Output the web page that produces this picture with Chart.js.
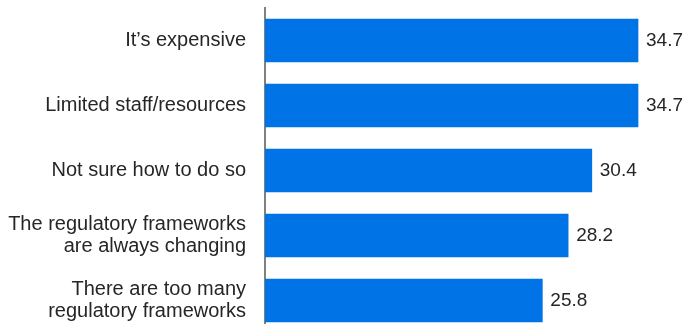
<!DOCTYPE html>
<html>
<head>
<meta charset="utf-8">
<script src="https://cdn.jsdelivr.net/npm/chart.js@4/dist/chart.umd.min.js"></script>
<style>
  html, body { margin: 0; padding: 0; background: #fff; overflow: hidden; }
  #wrap { position: relative; width: 698px; height: 333px; }
</style>
</head>
<body>
<div id="wrap"><canvas id="barChart"></canvas></div>
<script>
const reasons = [
    "It\u2019s expensive",
    "Limited staff/resources",
    "Not sure how to do so",
    ["The regulatory frameworks", "are always changing"],
    ["There are too many", "regulatory frameworks"]
];
const shares = [34.7, 34.7, 30.4, 28.2, 25.8];

const fontFamily = "'Liberation Sans', Arial, sans-serif";
const labelFont = { family: fontFamily, size: 20, lineHeight: 1.085 };
const textColor = '#262626';

// writes the value just past the end of each bar
const valueLabels = {
    id: 'valueLabels',
    afterDatasetsDraw(chart) {
        const ctx = chart.ctx;
        const meta = chart.getDatasetMeta(0);
        ctx.save();
        ctx.font = '19px ' + fontFamily;
        ctx.fillStyle = textColor;
        ctx.textAlign = 'left';
        ctx.textBaseline = 'middle';
        meta.data.forEach((bar, i) => {
            ctx.fillText(shares[i].toFixed(1), bar.x + 8, bar.y);
        });
        ctx.restore();
    }
};

const ctx = document.getElementById('barChart');

const aChart = new Chart(ctx, {
    type: 'bar',
    data: {
        labels: reasons,
        datasets: [{
            data: shares,
            backgroundColor: '#0073e6',
            barThickness: 43
        }]
    },
    options: {
        indexAxis: 'y',
        responsive: true,
        maintainAspectRatio: false,
        animation: false,
        layout: { padding: { top: 8, right: 3, bottom: 0, left: 0 } },
        plugins: {
            legend: { display: false },
            tooltip: { enabled: false }
        },
        scales: {
            x: {
                display: false,
                min: 0,
                max: 40
            },
            y: {
                z: 1,
                afterFit(scale) {
                    scale.width = 265;
                    scale.paddingTop = 0;
                    scale.paddingBottom = 0;
                },
                grid: { display: false, drawTicks: false },
                border: { display: true, color: '#808080', width: 2 },
                ticks: {
                    padding: 19,
                    color: textColor,
                    font: labelFont
                }
            }
        }
    },
    plugins: [valueLabels]
});
</script>
</body>
</html>
